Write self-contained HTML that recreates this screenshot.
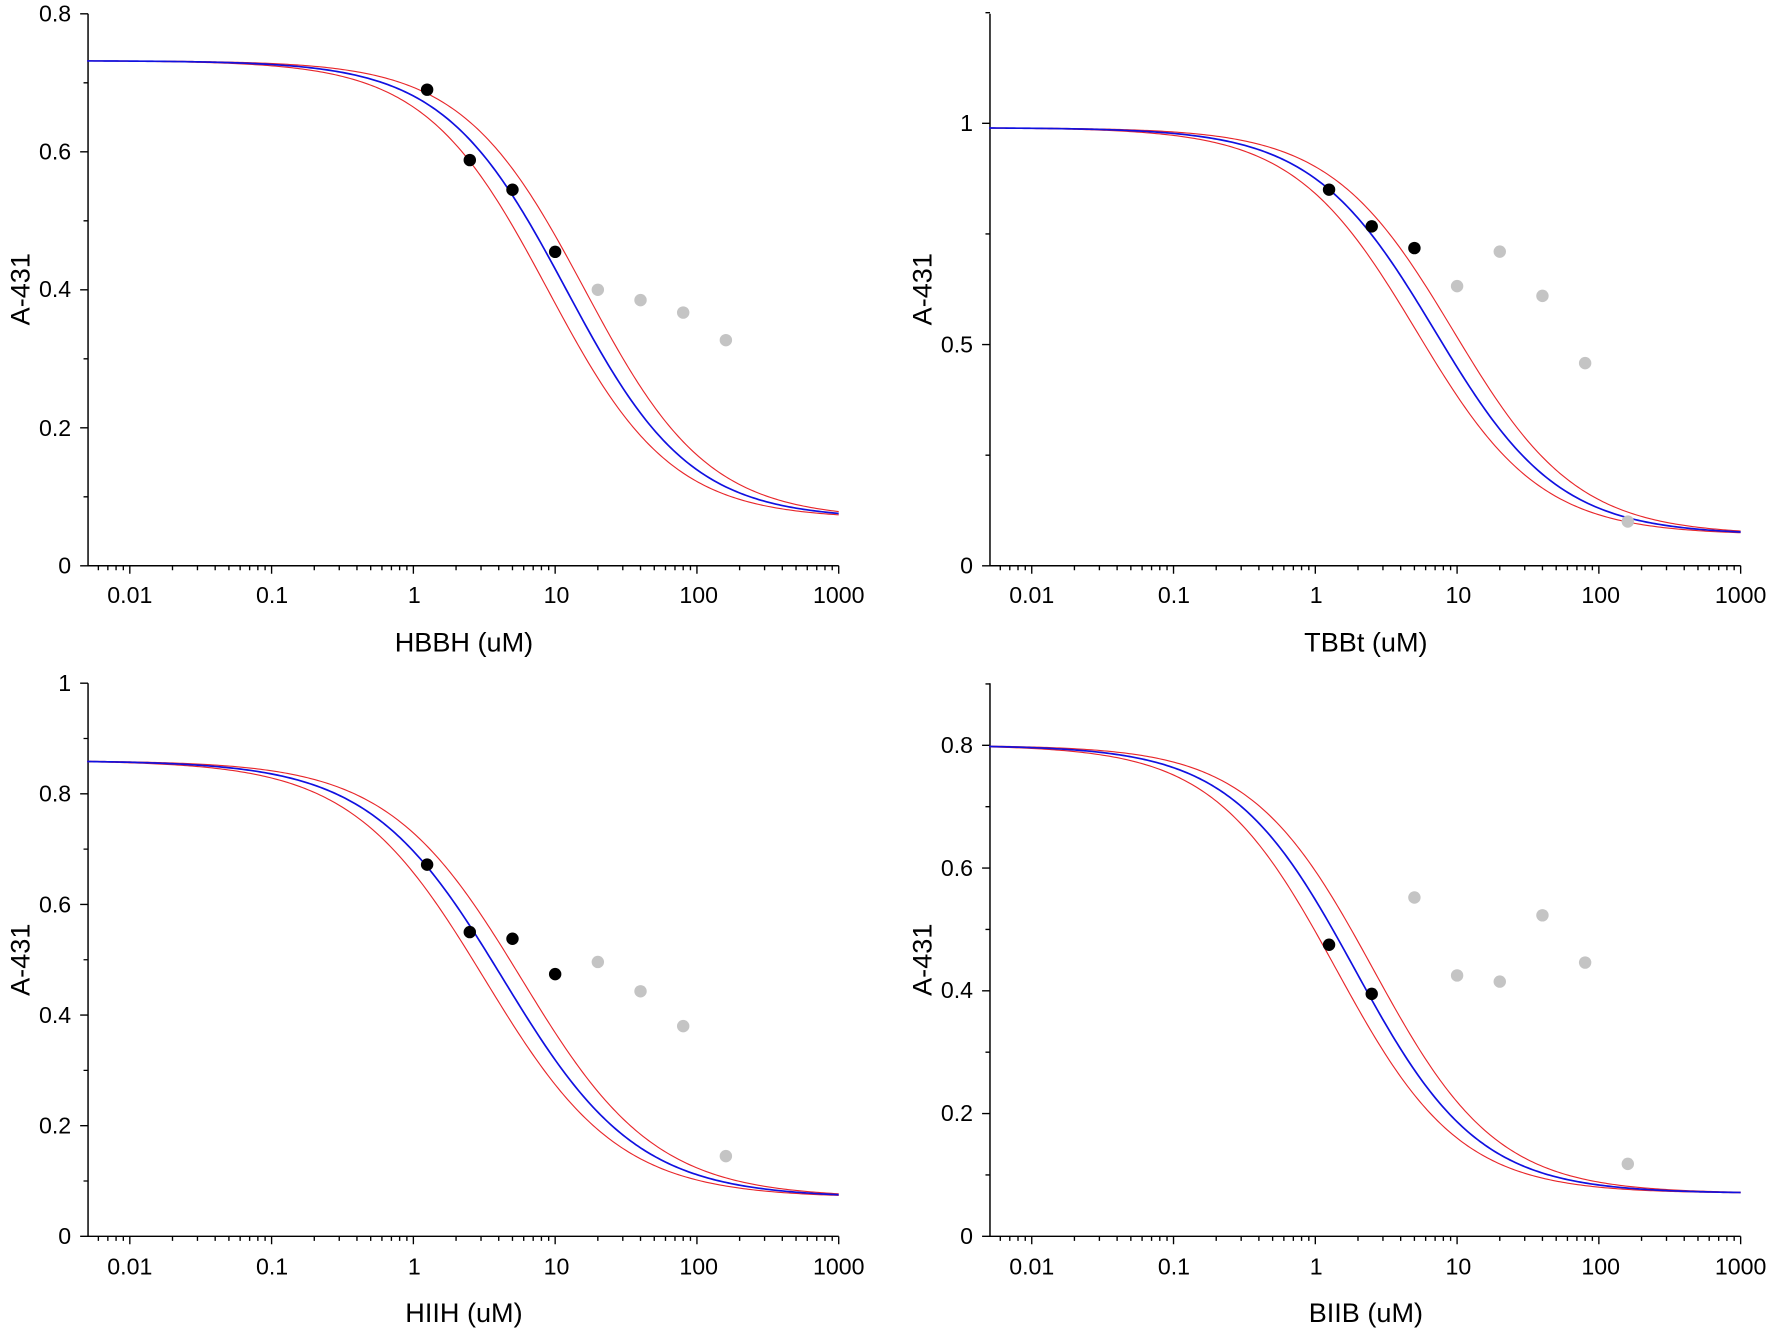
<!DOCTYPE html>
<html><head><meta charset="utf-8"><style>
html,body{margin:0;padding:0;background:#fff;}
svg{display:block;}
text{font-family:"Liberation Sans",Arial,sans-serif;fill:#000;}
.t{font-size:20.5px;}
.a{font-size:24px;}
</style></head><body>
<svg id="s" width="1770" height="1328" viewBox="0 0 1568 1176" xmlns="http://www.w3.org/2000/svg">
<g id="g"></g>
<g class="t" text-anchor="end">
<text x="63" y="19">0.8</text><text x="63" y="141">0.6</text><text x="63" y="263">0.4</text><text x="63" y="386">0.2</text><text x="63" y="508">0</text>
<text x="862" y="116">1</text><text x="862" y="312">0.5</text><text x="862" y="508">0</text>
<text x="63" y="612">1</text><text x="63" y="710">0.8</text><text x="63" y="808">0.6</text><text x="63" y="906">0.4</text><text x="63" y="1004">0.2</text><text x="63" y="1102">0</text>
<text x="862" y="667">0.8</text><text x="862" y="776">0.6</text><text x="862" y="884">0.4</text><text x="862" y="993">0.2</text><text x="862" y="1102">0</text>
</g>
<g class="t" text-anchor="middle">
<text x="115" y="534">0.01</text><text x="241" y="534">0.1</text><text x="367" y="534">1</text><text x="493" y="534">10</text><text x="619" y="534">100</text><text x="743" y="534">1000</text>
<text x="914" y="534">0.01</text><text x="1040" y="534">0.1</text><text x="1166" y="534">1</text><text x="1292" y="534">10</text><text x="1418" y="534">100</text><text x="1542" y="534">1000</text>
<text x="115" y="1129">0.01</text><text x="241" y="1129">0.1</text><text x="367" y="1129">1</text><text x="493" y="1129">10</text><text x="619" y="1129">100</text><text x="743" y="1129">1000</text>
<text x="914" y="1129">0.01</text><text x="1040" y="1129">0.1</text><text x="1166" y="1129">1</text><text x="1292" y="1129">10</text><text x="1418" y="1129">100</text><text x="1542" y="1129">1000</text>
</g>
<g class="a" text-anchor="middle">
<text x="411" y="577">HBBH (uM)</text><text x="1210" y="577">TBBt (uM)</text>
<text x="411" y="1171">HIIH (uM)</text><text x="1210" y="1171">BIIB (uM)</text>
<text transform="translate(26,256) rotate(-90)">A-431</text>
<text transform="translate(825,256) rotate(-90)">A-431</text>
<text transform="translate(26,850) rotate(-90)">A-431</text>
<text transform="translate(825,850) rotate(-90)">A-431</text>
</g>
</svg>
<script>
var g=document.getElementById('g'),h='';
var P=[
{L:78,x0:115,top:12,y0:501,sc:611.25,maj:[0,.2,.4,.6,.8],mn:[.1,.3,.5,.7],T:.732,B:.068,E:12,H:1,
 bk:[[1.25,.69],[2.5,.588],[5,.545],[10,.455]],gr:[[20,.4],[40,.385],[80,.367],[160,.327]]},
{L:877,x0:914,top:12,y0:501,sc:392,maj:[0,.5,1],mn:[.25,.75,1.25],T:.99,B:.07,E:7,H:1,
 bk:[[1.25,.85],[2.5,.767],[5,.718]],gr:[[10,.632],[20,.71],[40,.61],[80,.458],[160,.1]]},
{L:78,x0:115,top:605,y0:1095,sc:490,maj:[0,.2,.4,.6,.8,1],mn:[.1,.3,.5,.7,.9],T:.86,B:.07,E:4.3,H:.92,
 bk:[[1.25,.672],[2.5,.55],[5,.538],[10,.474]],gr:[[20,.496],[40,.443],[80,.38],[160,.145]]},
{L:877,x0:914,top:605,y0:1095,sc:543.75,maj:[0,.2,.4,.6,.8],mn:[.1,.3,.5,.7,.9],T:.8,B:.07,E:1.9,H:1,
 bk:[[1.25,.475],[2.5,.395]],gr:[[5,.552],[10,.425],[20,.415],[40,.523],[80,.446],[160,.118]]}];
var D=125.6;
P.forEach(function(p){
 var X=function(v){return p.x0+(Math.log10(v)+2)*D;},Y=function(v){return p.y0-v*p.sc;};
 var R=X(1000);
 h+='<path d="M'+p.L+' '+p.top+'V'+p.y0+'H'+R+'" fill="none" stroke="#000" stroke-width="1.3"/>';
 var d='';
 p.maj.forEach(function(v){d+='M'+p.L+' '+Y(v)+'h-7';});
 p.mn.forEach(function(v){if(Y(v)>=p.top-1)d+='M'+p.L+' '+Y(v)+'h-4';});
 for(var e=-3;e<3;e++)for(var k=1;k<10;k++){var v=k*Math.pow(10,e),x=X(v);if(x<p.L-0.5||x>R+0.5)continue;d+='M'+x+' '+p.y0+'v'+(k==1?7:4);}
 d+='M'+R+' '+p.y0+'v7';
 h+='<path d="'+d+'" stroke="#000" stroke-width="1.2" fill="none"/>';
 function curve(E,col,w){var s='';for(var i=0;i<=300;i++){var lx=Math.log10(0.005)+i/300*(3-Math.log10(0.005)),x=Math.pow(10,lx);var y=p.B+(p.T-p.B)/(1+Math.pow(x/E,p.H));s+=(i?'L':'M')+X(x).toFixed(2)+' '+Y(y).toFixed(2);}h+='<path d="'+s+'" fill="none" stroke="'+col+'" stroke-width="'+w+'"/>';}
 curve(p.E*0.74,'#e8262a',1);curve(p.E*1.35,'#e8262a',1);curve(p.E,'#1010e0',1.5);
 p.gr.forEach(function(q){h+='<circle cx="'+X(q[0])+'" cy="'+Y(q[1])+'" r="5.5" fill="#c4c4c4"/>';});
 p.bk.forEach(function(q){h+='<circle cx="'+X(q[0])+'" cy="'+Y(q[1])+'" r="5.5" fill="#000"/>';});
});
g.innerHTML=h;
</script>
</body></html>
